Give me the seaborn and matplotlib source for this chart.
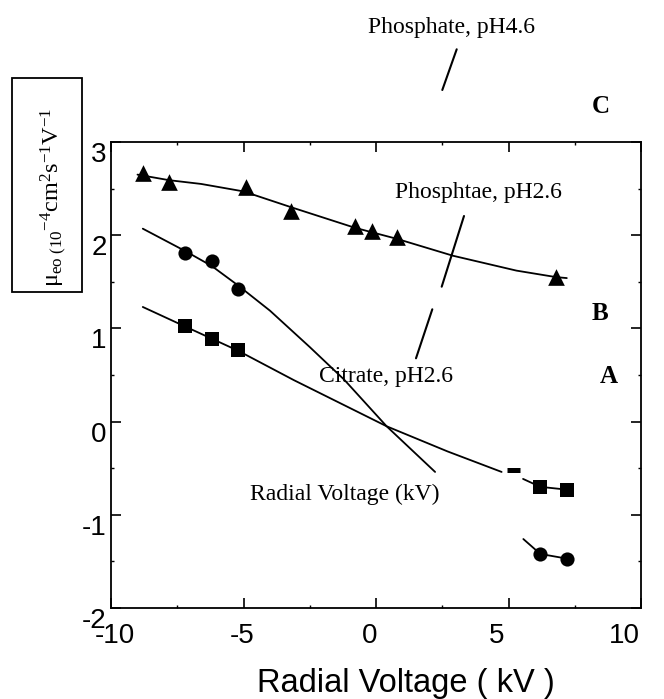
import numpy as np
import pandas as pd
import matplotlib
matplotlib.use("Agg")
import matplotlib.pyplot as plt
from matplotlib.lines import Line2D
from matplotlib.patches import Rectangle
from matplotlib.transforms import blended_transform_factory
import seaborn as sns

sns.set_style("ticks")
plt.rcParams["font.family"] = ["Liberation Sans", "DejaVu Sans"]
plt.rcParams["mathtext.fontset"] = "custom"
plt.rcParams["mathtext.rm"] = "Liberation Serif"
plt.rcParams["mathtext.it"] = "Liberation Serif"
plt.rcParams["text.color"] = "black"
plt.rcParams["axes.labelcolor"] = "black"
plt.rcParams["xtick.color"] = "black"
plt.rcParams["ytick.color"] = "black"

# ---------------- data ----------------
tri_x = [-8.8, -7.8, -4.9, -3.2, -0.8, -0.15, 0.8, 6.8]
tri_y = [2.67, 2.57, 2.52, 2.26, 2.10, 2.05, 1.98, 1.55]
tri_fit_x = [-9.0, -7.8, -6.6, -5.0, -3.2, -0.8, 0.8, 2.9, 5.3, 6.8, 7.2]
tri_fit_y = [2.65, 2.59, 2.55, 2.47, 2.30, 2.08, 1.96, 1.78, 1.62, 1.55, 1.54]

circ_x = [-7.2, -6.2, -5.2, 6.2, 7.2]
circ_y = [1.81, 1.72, 1.42, -1.42, -1.47]
circ_fit_x = [-8.8, -7.2, -6.2, -5.2, -4.0, -2.5, -1.2, 0.4, 2.23]
circ_fit_y = [2.07, 1.83, 1.67, 1.46, 1.19, 0.80, 0.45, -0.05, -0.54]
circ_fit2_x = [5.56, 6.2, 7.2]
circ_fit2_y = [-1.26, -1.42, -1.47]

sq_x = [-7.2, -6.2, -5.2, 6.2, 7.2]
sq_y = [1.03, 0.885, 0.77, -0.70, -0.73]
sq_fit_x = [-8.8, -7.2, -6.2, -5.2, -3.1, 0.4, 2.7, 4.74]
sq_fit_y = [1.23, 1.02, 0.89, 0.76, 0.445, -0.05, -0.32, -0.54]
sq_fit2_x = [5.55, 6.2, 7.2]
sq_fit2_y = [-0.615, -0.70, -0.73]
sq_clip_x = [4.94, 5.43]
sq_clip_y = [-0.52, -0.52]

xticks = [-10, -5, 0, 5, 10]
xticklabels = ["-10", "-5", "0", "5", "10"]
yticks = [-2, -1, 0, 1, 2, 3]
yticklabels = ["-2", "-1", "0", "1", "2", "3"]

# ---------------- figure ----------------
W, H = 664, 699
fig = plt.figure(figsize=(W / 100, H / 100), dpi=100)
fig.patch.set_facecolor("white")
ax = fig.add_axes([111 / W, 1 - 608 / H, 530 / W, 466 / H])
ax.set_facecolor("white")

lw = 1.3
for fx, fy in [(tri_fit_x, tri_fit_y), (circ_fit_x, circ_fit_y), (circ_fit2_x, circ_fit2_y),
               (sq_fit_x, sq_fit_y), (sq_fit2_x, sq_fit2_y)]:
    sns.lineplot(x=fx, y=fy, ax=ax, color="black", lw=lw, sort=False, estimator=None)
sns.lineplot(x=sq_clip_x, y=sq_clip_y, ax=ax, color="black", lw=3.6, sort=False,
             estimator=None, solid_capstyle="butt")

sns.scatterplot(x=tri_x, y=tri_y, ax=ax, marker="^", s=12 ** 2, color="black",
                edgecolor="black", linewidth=0, zorder=5)
sns.scatterplot(x=circ_x, y=circ_y, ax=ax, marker="o", s=10.2 ** 2, color="black",
                edgecolor="black", linewidth=0, zorder=5)
sns.scatterplot(x=sq_x, y=sq_y, ax=ax, marker="s", s=9.4 ** 2, color="black",
                edgecolor="black", linewidth=0, zorder=5)

ax.set_xlim(-10, 10)
ax.set_ylim(-2, 3)
for sp in ax.spines.values():
    sp.set_visible(True)
    sp.set_color("black")
    sp.set_linewidth(1.3)

ax.set_xticks(xticks)
ax.set_xticklabels([])
ax.set_xticks(np.arange(-10, 10.1, 2.5), minor=True)
ax.set_yticks(yticks)
ax.set_yticklabels(yticklabels)
ax.set_yticks(np.arange(-2, 3.1, 0.5), minor=True)
ax.tick_params(which="major", direction="in", top=True, right=True, length=7, width=1.2,
               labelsize=20, pad=3, colors="black")
ax.tick_params(which="minor", direction="in", top=True, right=True, length=2.5, width=1.0,
               colors="black")
for lab in ax.get_yticklabels():
    lab.set_va("top")
    lab.set_fontfamily("Liberation Sans")
    lab.set_color("black")

# x tick labels (slightly compressed placement as in the reference)
trans = blended_transform_factory(ax.transData, ax.transAxes)
for t, lab in zip(xticks, xticklabels):
    ax.text(t * 0.962 - 0.25, -15 / 466, lab, transform=trans, ha="center", va="top",
            fontsize=20, family="Liberation Sans", color="black")

ax.set_xlabel("")
ax.set_ylabel("")

fig.text(406 / W, 1 - 692 / H, "Radial Voltage ( kV )", ha="center", va="baseline",
         fontsize=23.5, family="Liberation Sans", color="black")

# y-label box
fig.add_artist(Rectangle((12 / W, 1 - 292 / H), 70 / W, 214 / H, transform=fig.transFigure,
                         fill=False, lw=1.3, ec="black"))
fig.text(54 / W, 1 - 197 / H,
         r"$\mathrm{\mu}_{\mathrm{eo\ (10}}{}^{-4}\mathrm{cm}^{2}\mathrm{s}^{-1}\mathrm{V}^{-1}$",
         rotation=90, ha="center", va="center", fontsize=17.5, color="black")

# annotations
serif = ["Liberation Serif", "DejaVu Serif"]
def ftext(x, y, s, **kw):
    fig.text(x / W, 1 - y / H, s, family=serif, color="black", **kw)

ftext(451, 33, "Phosphate, pH4.6", ha="center", va="baseline", fontsize=17)
ftext(478, 198, "Phosphtae, pH2.6", ha="center", va="baseline", fontsize=17)
ftext(386, 382, "Citrate, pH2.6", ha="center", va="baseline", fontsize=17)
ftext(345, 500, "Radial Voltage (kV)", ha="center", va="baseline", fontsize=17)
ftext(601, 113, "C", ha="center", va="baseline", fontsize=18, weight="bold")
ftext(600, 320, "B", ha="center", va="baseline", fontsize=18, weight="bold")
ftext(609, 383, "A", ha="center", va="baseline", fontsize=18, weight="bold")

for (x0, y0, x1, y1) in [(456.7, 49.3, 442.3, 90), (464, 216, 441.7, 286.7),
                         (432.3, 309.3, 416, 358.3)]:
    fig.add_artist(Line2D([x0 / W, x1 / W], [1 - y0 / H, 1 - y1 / H],
                          transform=fig.transFigure, color="black", lw=1.5))

fig.savefig("out.png", dpi=100, facecolor="white")
